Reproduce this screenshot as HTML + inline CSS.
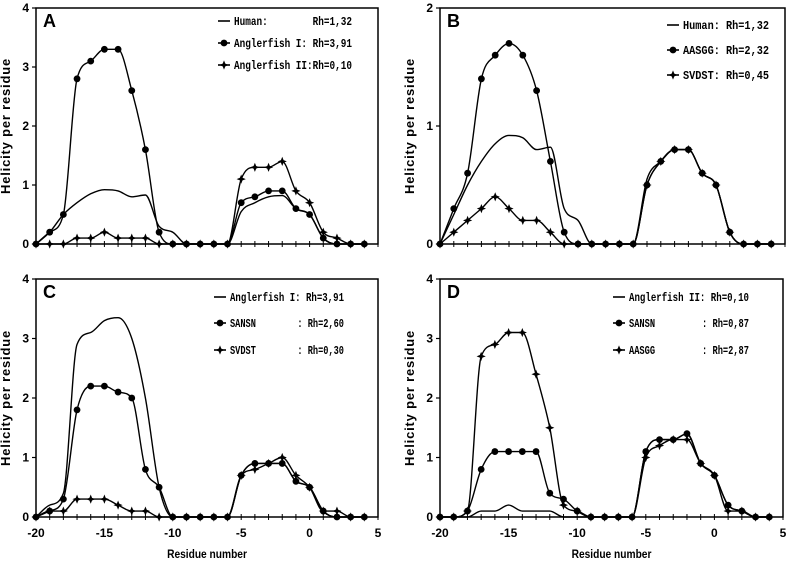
<!DOCTYPE html>
<html><head><meta charset="utf-8"><style>
html,body{margin:0;padding:0;background:#fff;}
svg{display:block;}
text{white-space:pre;}
</style></head><body>
<svg id="chart" width="787" height="563" viewBox="0 0 787 563" xmlns="http://www.w3.org/2000/svg"></svg>
<script>
const residues = [-20,-19,-18,-17,-16,-15,-14,-13,-12,-11,-10,-9,-8,-7,-6,-5,-4,-3,-2,-1,0,1,2,3,4];
const xTicks = [-20,-15,-10,-5,0,5];
// Panel A
const aHuman  = [0,0.2,0.5,0.7,0.85,0.92,0.9,0.8,0.83,0.3,0.2,0,0,0,0,0.55,0.7,0.8,0.82,0.6,0.5,0.1,0,0,0];
const aAngI   = [0,0.2,0.5,2.8,3.1,3.3,3.3,2.6,1.6,0.2,0,0,0,0,0,0.7,0.8,0.9,0.9,0.6,0.5,0.1,0,0,0];
const aAngII  = [0,0,0,0.1,0.1,0.2,0.1,0.1,0.1,0,0,0,0,0,0,1.1,1.3,1.3,1.4,0.9,0.7,0.2,0.1,0,0];
// Panel B
const bHuman  = [0,0.25,0.5,0.7,0.85,0.92,0.9,0.8,0.82,0.3,0.2,0,0,0,0,0.55,0.7,0.8,0.8,0.6,0.5,0.1,0,0,0];
const bAASGG  = [0,0.3,0.6,1.4,1.6,1.7,1.6,1.3,0.7,0.1,0,0,0,0,0,0.5,0.7,0.8,0.8,0.6,0.5,0.1,0,0,0];
const bSVDST  = [0,0.1,0.2,0.3,0.4,0.3,0.2,0.2,0.1,0,0,0,0,0,0,0.5,0.7,0.8,0.8,0.6,0.5,0.1,0,0,0];
// Panel C
const cAngI   = [0,0.2,0.4,2.9,3.1,3.3,3.35,3.0,2.0,0.5,0,0,0,0,0,0.7,0.9,0.9,0.9,0.6,0.5,0.1,0,0,0];
const cSANSN  = [0,0.1,0.3,1.8,2.2,2.2,2.1,2.0,0.8,0.5,0,0,0,0,0,0.7,0.9,0.9,0.9,0.6,0.5,0.1,0,0,0];
const cSVDST  = [0,0.1,0.1,0.3,0.3,0.3,0.2,0.1,0.1,0,0,0,0,0,0,0.7,0.8,0.9,1.0,0.7,0.5,0.1,0.1,0,0];
// Panel D
const dAngII  = [0,0,0,0.1,0.1,0.2,0.1,0.1,0.1,0,0,0,0,0,0,1.1,1.3,1.3,1.4,0.9,0.7,0.2,0.1,0,0];
const dSANSN  = [0,0,0.1,0.8,1.1,1.1,1.1,1.1,0.4,0.3,0.1,0,0,0,0,1.1,1.3,1.3,1.4,0.9,0.7,0.2,0.1,0,0];
const dAASGG  = [0,0,0.1,2.7,2.9,3.1,3.1,2.4,1.5,0.2,0.1,0,0,0,0,1.0,1.2,1.3,1.3,0.9,0.7,0.1,0.1,0,0];

const NS='http://www.w3.org/2000/svg';
const svg=document.getElementById('chart');
function mk(tag,attrs,parent){const e=document.createElementNS(NS,tag);for(const k in attrs)e.setAttribute(k,attrs[k]);(parent||svg).appendChild(e);return e;}

function smoothPath(pts){
  const n=pts.length, d=[], m=[];
  for(let i=0;i<n-1;i++) d.push((pts[i+1][1]-pts[i][1])/(pts[i+1][0]-pts[i][0]));
  for(let i=0;i<n;i++){
    if(i===0) m.push(d[0]); else if(i===n-1) m.push(d[n-2]);
    else if(d[i-1]*d[i]<=0) m.push(0);
    else m.push((d[i-1]+d[i])/2);
  }
  for(let i=0;i<n-1;i++){
    if(d[i]===0){m[i]=0;m[i+1]=0;continue;}
    const a=m[i]/d[i],b=m[i+1]/d[i],s=a*a+b*b;
    if(s>9){const t=3/Math.sqrt(s);m[i]=t*a*d[i];m[i+1]=t*b*d[i];}
  }
  let p='M'+pts[0][0].toFixed(1)+','+pts[0][1].toFixed(1);
  for(let i=0;i<n-1;i++){
    const h=(pts[i+1][0]-pts[i][0])/3;
    p+=' C'+(pts[i][0]+h).toFixed(1)+','+(pts[i][1]+m[i]*h).toFixed(1)+' '+(pts[i+1][0]-h).toFixed(1)+','+(pts[i+1][1]-m[i+1]*h).toFixed(1)+' '+pts[i+1][0].toFixed(1)+','+pts[i+1][1].toFixed(1);
  }
  return p;
}
function marker(g,kind,x,y){
  if(kind==='circle'){
    const c=mk('circle',{cx:x,cy:y,r:3.4,fill:'#000'},g);
    
    
  }else if(kind==='star'){
    const s=2.2,L=4.6;
    const p=mk('polygon',{points:`${x},${y-L} ${x+s*0.6},${y-s*0.6} ${x+L},${y} ${x+s*0.6},${y+s*0.6} ${x},${y+L} ${x-s*0.6},${y+s*0.6} ${x-L},${y} ${x-s*0.6},${y-s*0.6}`,fill:'#000'},g);
    
    
  }
}

function panel(cfg){
  const g=mk('g',{});
  
  
  const {x0,x1,y0,y1,ymax}=cfg;
  const sx=v=>x0+(v+20)/25*(x1-x0);
  const sy=v=>y0-(v/ymax)*(y0-y1);
  const frame=mk('rect',{x:x0,y:y1,width:x1-x0,height:y0-y1,fill:'none',stroke:'#000','stroke-width':1.5},g);
  
  
  for(let v=-20;v<=5;v++){
    const t=mk('line',{x1:sx(v),x2:sx(v),y1:y0-3,y2:y0+3,stroke:'#000','stroke-width':1},g);
    
    
  }
  for(let v=0;v<=ymax;v++){
    const t=mk('line',{x1:x0-4,x2:x0,y1:sy(v),y2:sy(v),stroke:'#000','stroke-width':1.2},g);
    
    
    const l=mk('text',{x:x0-7,y:sy(v)+4,'text-anchor':'end','font-family':'Liberation Sans, sans-serif','font-size':12,'font-weight':'bold'},g);
    l.textContent=v;
    
    
  }
  if(cfg.xlabels){
    xTicks.forEach(v=>{
      const l=mk('text',{x:sx(v),y:y0+20,'text-anchor':'middle','font-family':'Liberation Sans, sans-serif','font-size':12,'font-weight':'bold'},g);
      l.textContent=v;
      
      
    });
    const xt=mk('text',{x:0,y:0,'text-anchor':'middle','font-family':'Liberation Sans, sans-serif','font-size':12,'font-weight':'bold'},g);
    xt.setAttribute('transform',`translate(${(x0+x1)/2},${y0+41}) scale(0.85,1)`);
    xt.textContent='Residue number';
    
    
  }
  const yt=mk('text',{transform:`translate(${x0-26},${(y0+y1)/2}) rotate(-90)`,'text-anchor':'middle','font-family':'Liberation Sans, sans-serif','font-size':13,'font-weight':'bold','letter-spacing':'0.8'},g);
  yt.textContent='Helicity per residue';
  
  
  const lt=mk('text',{x:x0+7,y:y1+19,'font-family':'Liberation Sans, sans-serif','font-size':18,'font-weight':'bold'},g);
  lt.textContent=cfg.letter;
  
  

  cfg.series.forEach(s=>{
    const pts=residues.map((r,i)=>[sx(r),sy(s.values[i])]);
    const p=mk('path',{d:smoothPath(pts),fill:'none',stroke:'#000','stroke-width':1.4},g);
    
    
    if(s.marker!=='none') pts.forEach(q=>marker(g,s.marker,q[0],q[1]));
  });
  cfg.series.forEach((s,i)=>{
    const ly=cfg.legY[i];
    const lx=cfg.legX;
    const ll=mk('line',{x1:lx,x2:lx+12,y1:ly,y2:ly,stroke:'#000','stroke-width':1.6},g);
    
    
    if(s.marker!=='none') marker(g,s.marker,lx+6,ly);
    const tx=mk('text',{x:lx+16,y:ly+4,'font-family':'Liberation Mono, monospace','font-size':12,'font-weight':'bold','textLength':s.labelW,'lengthAdjust':'spacingAndGlyphs'},g);
    tx.setAttribute('xml:space','preserve');
    tx.textContent=s.label;
    
    
  });
}

panel({letter:'A',x0:36,x1:378,y0:244,y1:8,ymax:4,xlabels:false,legX:218,legY:[21,43,65],
  series:[
    {key:'human',values:aHuman,marker:'none',label:'Human:        Rh=1,32',labelW:118},
    {key:'anglerfish-1',values:aAngI,marker:'circle',label:'Anglerfish I: Rh=3,91',labelW:118},
    {key:'anglerfish-2',values:aAngII,marker:'star',label:'Anglerfish II:Rh=0,10',labelW:118}]});
panel({letter:'B',x0:440,x1:785,y0:244,y1:8,ymax:2,xlabels:false,legX:667,legY:[25,50,75],
  series:[
    {key:'human',values:bHuman,marker:'none',label:'Human: Rh=1,32',labelW:86},
    {key:'aasgg',values:bAASGG,marker:'circle',label:'AASGG: Rh=2,32',labelW:86},
    {key:'svdst',values:bSVDST,marker:'star',label:'SVDST: Rh=0,45',labelW:86}]});
panel({letter:'C',x0:36,x1:378,y0:517,y1:279,ymax:4,xlabels:true,legX:214,legY:[297,323,350],
  series:[
    {key:'anglerfish-1',values:cAngI,marker:'none',label:'Anglerfish I: Rh=3,91',labelW:114},
    {key:'sansn',values:cSANSN,marker:'circle',label:'SANSN        : Rh=2,60',labelW:114},
    {key:'svdst',values:cSVDST,marker:'star',label:'SVDST        : Rh=0,30',labelW:114}]});
panel({letter:'D',x0:440,x1:783,y0:517,y1:279,ymax:4,xlabels:true,legX:613,legY:[297,323,350],
  series:[
    {key:'anglerfish-2',values:dAngII,marker:'none',label:'Anglerfish II: Rh=0,10',labelW:120},
    {key:'sansn',values:dSANSN,marker:'circle',label:'SANSN         : Rh=0,87',labelW:120},
    {key:'aasgg',values:dAASGG,marker:'star',label:'AASGG         : Rh=2,87',labelW:120}]});
</script>
</body></html>
